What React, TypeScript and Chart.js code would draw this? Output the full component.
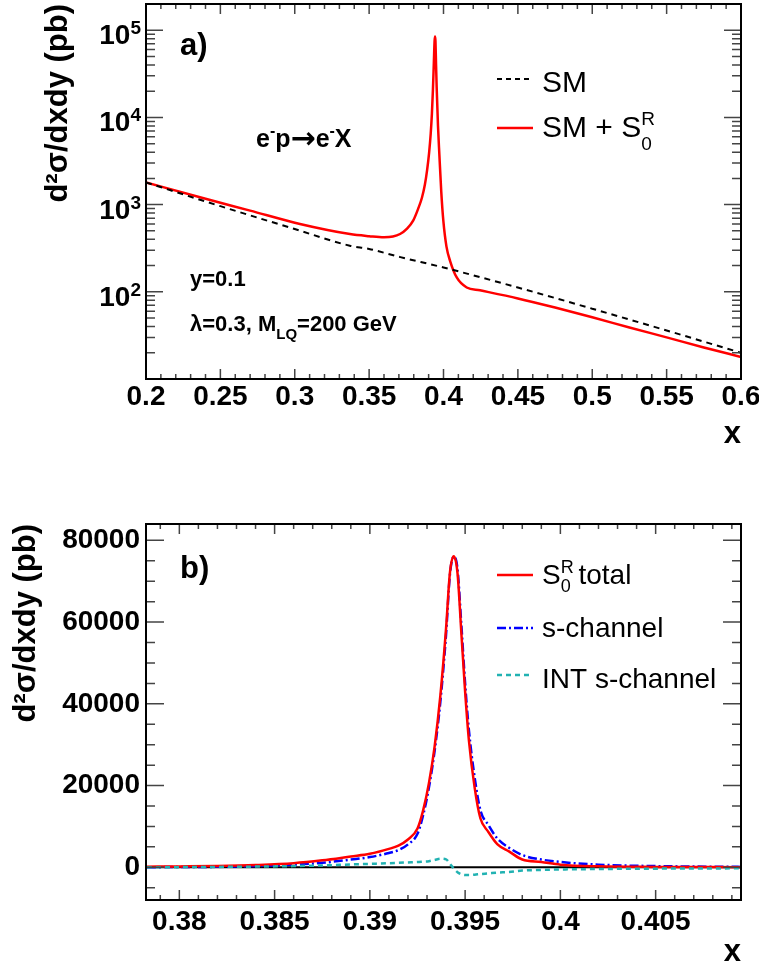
import React, { useEffect, useRef } from 'react';
import { Chart, registerables } from 'chart.js';
Chart.register(...registerables);

const FONT = "'Liberation Sans', Arial, Helvetica, sans-serif";

// ---------- Panel a) ----------
const smX = [0.2, 0.25, 0.3, 0.337, 0.35, 0.371, 0.4, 0.45, 0.5, 0.55, 0.6];
const smY = [1800, 960, 525, 338, 310, 250, 190, 112, 64, 36, 20];

const totAX = [0.2, 0.2363, 0.27, 0.3035, 0.3371, 0.35, 0.36, 0.366, 0.3708, 0.3755, 0.3797, 0.383, 0.3855, 0.3875, 0.389, 0.3903, 0.3914, 0.3922, 0.3929, 0.3935, 0.394, 0.3943, 0.3946, 0.395, 0.3954, 0.3963, 0.3972, 0.3985, 0.3999, 0.402, 0.4044, 0.4089, 0.4156, 0.4245, 0.45, 0.475, 0.5, 0.525, 0.55, 0.575, 0.6];
const totAY = [1800, 1213, 853, 600, 460, 435, 422, 430, 460, 530, 660, 900, 1200, 1700, 2500, 3900, 6500, 11000, 21000, 42000, 75000, 85000, 75000, 40000, 22300, 8000, 3800, 1400, 650, 330, 227, 146, 112, 104, 84, 66, 51, 39, 30, 23, 17.9];

const aXTicks = [0.2, 0.25, 0.3, 0.35, 0.4, 0.45, 0.5, 0.55, 0.6];
const aXTickLabels = ['0.2', '0.25', '0.3', '0.35', '0.4', '0.45', '0.5', '0.55', '0.6'];
const aYExponents = [2, 3, 4, 5];

// ---------- Panel b) ----------
const bX = [0.3783, 0.380, 0.382, 0.384, 0.386, 0.3875, 0.389, 0.390, 0.391, 0.3915, 0.392, 0.3925, 0.3928, 0.3931, 0.3934, 0.3937, 0.3940, 0.3942, 0.3944, 0.3946, 0.3948, 0.3950, 0.3952, 0.3955, 0.3958, 0.3962, 0.3967, 0.3973, 0.398, 0.399, 0.4, 0.402, 0.405, 0.4095];
const bTotal = [150, 220, 330, 560, 1000, 1700, 2650, 3300, 4500, 5300, 6800, 9500, 14000, 20600, 29600, 42000, 58500, 72000, 76100, 72000, 57500, 43000, 31000, 19500, 12000, 8800, 5600, 3900, 1900, 1300, 650, 230, 90, 30];
const bSchan = [30, 60, 120, 300, 650, 1100, 1900, 2500, 3500, 4200, 5600, 8200, 12800, 19500, 28500, 40500, 57000, 71500, 76000, 73000, 59500, 45000, 33500, 22000, 14000, 10500, 7000, 4800, 3000, 1900, 1300, 650, 300, 100];
const bInt = [0, 40, 100, 170, 300, 450, 700, 850, 1000, 1100, 1200, 1300, 1400, 1500, 1800, 2100, 1950, 900, -300, -1200, -1700, -1900, -1900, -1800, -1650, -1500, -1300, -1150, -800, -650, -530, -420, -330, -250];

const bXTicks = [0.38, 0.385, 0.39, 0.395, 0.4, 0.405];
const bXTickLabels = ['0.38', '0.385', '0.39', '0.395', '0.4', '0.405'];
const bYTicks = [0, 20000, 40000, 60000, 80000];
const bYTickLabels = ['0', '20000', '40000', '60000', '80000'];

const tickFont = { family: FONT, size: 28, weight: 'bold' as const };
const titleFont = { family: FONT, size: 31, weight: 'bold' as const };

type Seg = { t: string; size: number; bold?: boolean; dy?: number; noAdvance?: boolean; family?: string };
function drawRich(ctx: CanvasRenderingContext2D, x: number, y: number, segs: Seg[]) {
  let cx = x;
  ctx.textAlign = 'left';
  ctx.textBaseline = 'alphabetic';
  ctx.fillStyle = '#000';
  for (const s of segs) {
    ctx.font = `${s.bold ? 'bold ' : ''}${s.size}px ${s.family || FONT}`;
    ctx.fillText(s.t, cx, y + (s.dy || 0));
    if (!s.noAdvance) cx += ctx.measureText(s.t).width;
  }
  return cx;
}

function legendLine(ctx: CanvasRenderingContext2D, y: number, color: string, dash: number[], width: number) {
  ctx.save();
  ctx.strokeStyle = color;
  ctx.lineWidth = width;
  ctx.setLineDash(dash);
  ctx.beginPath();
  ctx.moveTo(497, y);
  ctx.lineTo(533, y);
  ctx.stroke();
  ctx.restore();
}

const panelAPlugin = {
  id: 'panelA',
  afterDatasetsDraw(chart: any) {
    const { ctx, chartArea: a } = chart;
    const xs = chart.scales.x;
    const ys = chart.scales.y;
    ctx.save();
    ctx.strokeStyle = '#444';
    ctx.lineWidth = 1.5;
    ctx.beginPath();
    for (let i = 20; i <= 60; i++) {
      const px = xs.getPixelForValue(i / 100);
      const len = i % 5 === 0 ? 10 : 5;
      ctx.moveTo(px, a.bottom); ctx.lineTo(px, a.bottom - len);
      ctx.moveTo(px, a.top); ctx.lineTo(px, a.top + len);
    }
    for (let d = 1; d <= 5; d++) {
      for (let m = 1; m <= 9; m++) {
        const v = m * Math.pow(10, d);
        if (v > 2e5) continue;
        const py = ys.getPixelForValue(v);
        const len = m === 1 ? 17 : 9;
        ctx.moveTo(a.left, py); ctx.lineTo(a.left + len, py);
        ctx.moveTo(a.right, py); ctx.lineTo(a.right - len, py);
      }
    }
    ctx.stroke();
    ctx.strokeStyle = '#000';
    ctx.lineWidth = 2;
    ctx.strokeRect(a.left, a.top, a.right - a.left, a.bottom - a.top);

    // y tick labels 10^n
    for (const e of aYExponents) {
      const py = ys.getPixelForValue(Math.pow(10, e));
      ctx.font = `bold 28px ${FONT}`;
      const w10 = ctx.measureText('10').width;
      ctx.font = `bold 19px ${FONT}`;
      const we = ctx.measureText(String(e)).width;
      const x0 = 141 - we - w10;
      drawRich(ctx, x0, py + 14, [
        { t: '10', size: 28, bold: true },
        { t: String(e), size: 19, bold: true, dy: -10 },
      ]);
    }

    // annotations
    drawRich(ctx, 180, 55, [{ t: 'a)', size: 31, bold: true }]);
    drawRich(ctx, 256, 147, [
      { t: 'e', size: 25, bold: true },
      { t: '-', size: 16, bold: true, dy: -11 },
      { t: 'p', size: 25, bold: true },
      { t: '→', size: 30, bold: true, dy: 1, family: "'DejaVu Sans', sans-serif" },
      { t: 'e', size: 25, bold: true },
      { t: '-', size: 16, bold: true, dy: -11 },
      { t: 'X', size: 25, bold: true },
    ]);
    drawRich(ctx, 190, 286, [{ t: 'y=0.1', size: 22, bold: true }]);
    drawRich(ctx, 190, 331, [
      { t: 'λ=0.3, M', size: 22, bold: true },
      { t: 'LQ', size: 15, bold: true, dy: 8 },
      { t: '=200 GeV', size: 22, bold: true },
    ]);

    // legend
    legendLine(ctx, 79, '#000', [5, 4], 2);
    drawRich(ctx, 542, 92, [{ t: 'SM', size: 30 }]);
    legendLine(ctx, 128, '#ff0000', [], 2.5);
    drawRich(ctx, 542, 137, [
      { t: 'SM + S', size: 30 },
      { t: 'R', size: 19, dy: -12, noAdvance: true },
      { t: '0', size: 19, dy: 13 },
    ]);
    ctx.restore();
  },
};

const panelBPlugin = {
  id: 'panelB',
  beforeDatasetsDraw(chart: any) {
    const { ctx, chartArea: a } = chart;
    const py = chart.scales.y.getPixelForValue(0);
    ctx.save();
    ctx.strokeStyle = '#000';
    ctx.lineWidth = 2;
    ctx.beginPath();
    ctx.moveTo(a.left, py);
    ctx.lineTo(a.right, py);
    ctx.stroke();
    ctx.restore();
  },
  afterDatasetsDraw(chart: any) {
    const { ctx, chartArea: a } = chart;
    const xs = chart.scales.x;
    const ys = chart.scales.y;
    ctx.save();
    ctx.strokeStyle = '#444';
    ctx.lineWidth = 1.5;
    ctx.beginPath();
    for (let i = 379; i <= 409; i++) {
      const px = xs.getPixelForValue(i / 1000);
      const len = i % 5 === 0 ? 10 : 5;
      ctx.moveTo(px, a.bottom); ctx.lineTo(px, a.bottom - len);
      ctx.moveTo(px, a.top); ctx.lineTo(px, a.top + len);
    }
    for (let k = -1; k <= 16; k++) {
      const py = ys.getPixelForValue(k * 5000);
      const len = k % 4 === 0 ? 18 : 9;
      ctx.moveTo(a.left, py); ctx.lineTo(a.left + len, py);
      ctx.moveTo(a.right, py); ctx.lineTo(a.right - len, py);
    }
    ctx.stroke();
    ctx.strokeStyle = '#000';
    ctx.lineWidth = 2;
    ctx.strokeRect(a.left, a.top, a.right - a.left, a.bottom - a.top);

    drawRich(ctx, 180, 92, [{ t: 'b)', size: 31, bold: true }]);

    legendLine(ctx, 89, '#ff0000', [], 2.5);
    drawRich(ctx, 542, 98, [
      { t: 'S', size: 28 },
      { t: 'R', size: 18, dy: -11, noAdvance: true },
      { t: '0', size: 18, dy: 8 },
      { t: ' total', size: 28 },
    ]);
    legendLine(ctx, 142, '#0000ff', [9, 3, 2, 3], 2.5);
    drawRich(ctx, 542, 151, [{ t: 's-channel', size: 28 }]);
    legendLine(ctx, 189, '#22b2b2', [5, 4], 2.5);
    drawRich(ctx, 542, 202, [{ t: 'INT s-channel', size: 28 }]);
    ctx.restore();
  },
};

function configA(): any {
  return {
    type: 'line',
    data: {
      datasets: [
        {
          label: 'SM',
          data: smX.map((x, i) => ({ x, y: smY[i] })),
          borderColor: '#000',
          borderWidth: 2,
          borderDash: [6, 5],
          pointRadius: 0,
          fill: false,
          cubicInterpolationMode: 'monotone',
        },
        {
          label: 'SM + S0R',
          data: totAX.map((x, i) => ({ x, y: totAY[i] })),
          borderColor: '#ff0000',
          borderWidth: 2.5,
          pointRadius: 0,
          fill: false,
          cubicInterpolationMode: 'monotone',
        },
      ],
    },
    options: {
      responsive: false,
      animation: false,
      devicePixelRatio: 1,
      layout: { padding: { top: 4, right: 18, left: 0, bottom: 0 } },
      plugins: { legend: { display: false }, tooltip: { enabled: false } },
      scales: {
        x: {
          type: 'linear',
          min: 0.2,
          max: 0.6,
          grid: { display: false, drawTicks: false },
          border: { display: false },
          ticks: {
            font: tickFont,
            color: '#000',
            padding: 1,
            maxRotation: 0,
            autoSkip: false,
            callback: (_v: any, i: number) => aXTickLabels[i],
          },
          afterBuildTicks: (s: any) => { s.ticks = aXTicks.map((v) => ({ value: v })); },
          afterFit: (s: any) => { s.height = 107; s.paddingLeft = 0; s.paddingRight = 0; },
          title: { display: true, text: 'x', align: 'end', font: titleFont, color: '#000', padding: { top: 0, bottom: 33 } },
        },
        y: {
          type: 'logarithmic',
          min: 10,
          max: 2e5,
          grid: { display: false, drawTicks: false },
          border: { display: false },
          ticks: { display: false },
          afterFit: (s: any) => { s.width = 146; s.paddingTop = 0; s.paddingBottom = 0; },
          title: { display: true, text: 'd²σ/dxdy (pb)', align: 'end', font: titleFont, color: '#000', padding: { top: 40, bottom: 0 } },
        },
      },
    },
    plugins: [panelAPlugin],
  };
}

function configB(): any {
  const mk = (label: string, ys: number[], color: string, dash: number[]) => ({
    label,
    data: bX.map((x, i) => ({ x, y: ys[i] })),
    borderColor: color,
    borderWidth: 2.5,
    borderDash: dash,
    pointRadius: 0,
    fill: false,
    cubicInterpolationMode: 'monotone',
  });
  return {
    type: 'line',
    data: {
      datasets: [
        mk('INT s-channel', bInt, '#22b2b2', [5, 4]),
        mk('S0R total', bTotal, '#ff0000', []),
        mk('s-channel', bSchan, '#0000ff', [9, 3, 2, 3]),
      ],
    },
    options: {
      responsive: false,
      animation: false,
      devicePixelRatio: 1,
      layout: { padding: { top: 38, right: 18, left: 0, bottom: 0 } },
      plugins: { legend: { display: false }, tooltip: { enabled: false } },
      scales: {
        x: {
          type: 'linear',
          min: 0.37825,
          max: 0.40948,
          grid: { display: false, drawTicks: false },
          border: { display: false },
          ticks: {
            font: tickFont,
            color: '#000',
            padding: 5,
            maxRotation: 0,
            autoSkip: false,
            callback: (_v: any, i: number) => bXTickLabels[i],
          },
          afterBuildTicks: (s: any) => { s.ticks = bXTicks.map((v) => ({ value: v })); },
          afterFit: (s: any) => { s.height = 72; s.paddingLeft = 0; s.paddingRight = 0; },
          title: { display: true, text: 'x', align: 'end', font: titleFont, color: '#000', padding: { top: 0, bottom: 1 } },
        },
        y: {
          type: 'linear',
          min: -8000,
          max: 84000,
          grid: { display: false, drawTicks: false },
          border: { display: false },
          ticks: {
            font: tickFont,
            color: '#000',
            padding: 6,
            autoSkip: false,
            callback: (_v: any, i: number) => bYTickLabels[i],
          },
          afterBuildTicks: (s: any) => { s.ticks = bYTicks.map((v) => ({ value: v })); },
          afterFit: (s: any) => { s.width = 146; s.paddingTop = 0; s.paddingBottom = 0; },
          title: { display: true, text: 'd²σ/dxdy (pb)', align: 'end', font: titleFont, color: '#000', padding: { top: 8, bottom: 0 } },
        },
      },
    },
    plugins: [panelBPlugin],
  };
}

function ChartCanvas({ make }: { make: () => any }) {
  const ref = useRef<HTMLCanvasElement>(null);
  useEffect(() => {
    const chart = new Chart(ref.current as HTMLCanvasElement, make());
    return () => chart.destroy();
  }, []);
  return <canvas ref={ref} width={759} height={486} style={{ display: 'block', width: 759, height: 486 }} />;
}

export default function App() {
  return (
    <div style={{ position: 'absolute', left: 0, top: 0, width: 759, height: 972, background: '#fff' }}>
      <ChartCanvas make={configA} />
      <ChartCanvas make={configB} />
    </div>
  );
}
